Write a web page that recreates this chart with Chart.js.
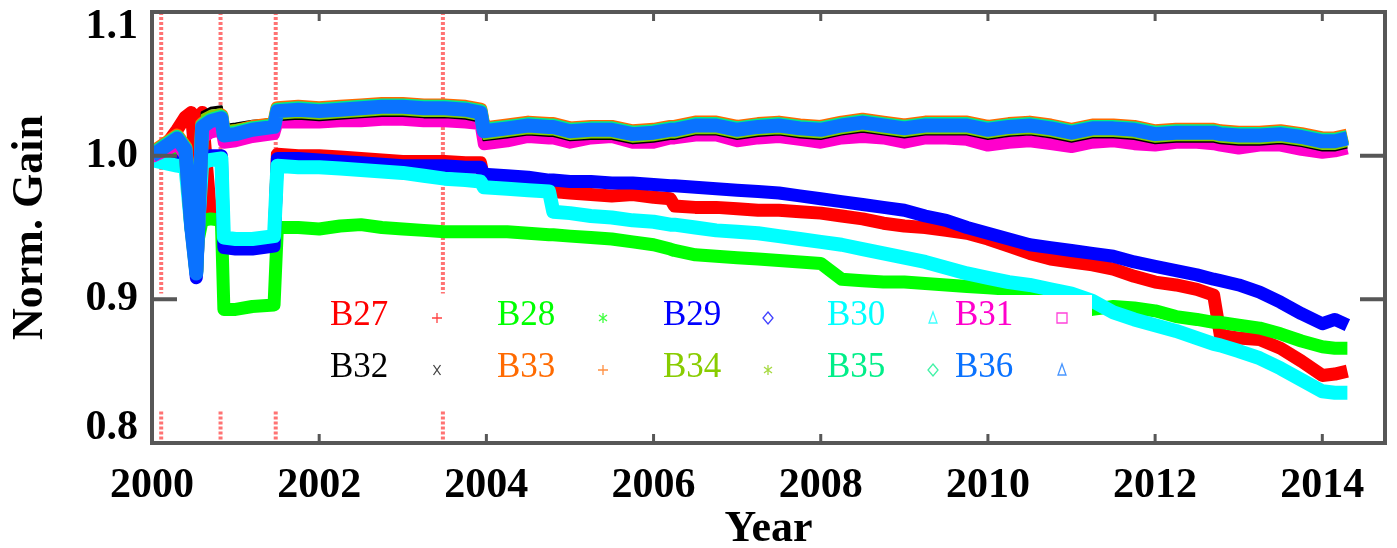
<!DOCTYPE html>
<html>
<head>
<meta charset="utf-8">
<title>Norm. Gain</title>
<script src="https://cdn.jsdelivr.net/npm/chart.js@4.4.1/dist/chart.umd.min.js"></script>
<style>
  html, body { margin: 0; padding: 0; background: #fff; }
  canvas { display: block; }
</style>
</head>
<body>
<canvas id="gain-chart" width="1397" height="548"></canvas>
<script>
// Normalised gain of bands B27..B36
var years = [
  2000.00, 2000.15, 2000.30, 2000.40, 2000.47, 2000.53, 2000.60, 2000.70, 2000.83, 2000.86,
  2001.00, 2001.20, 2001.46, 2001.50, 2001.75, 2002.00, 2002.25, 2002.50, 2002.75, 2003.00,
  2003.25, 2003.50, 2003.75, 2003.93, 2003.97, 2004.25, 2004.50, 2004.75, 2004.80, 2005.00,
  2005.25, 2005.50, 2005.75, 2006.00, 2006.20, 2006.25, 2006.50, 2006.75, 2007.00, 2007.25,
  2007.50, 2007.75, 2008.00, 2008.25, 2008.50, 2008.75, 2009.00, 2009.25, 2009.50, 2009.75,
  2010.00, 2010.25, 2010.50, 2010.75, 2011.00, 2011.25, 2011.50, 2011.75, 2012.00, 2012.25,
  2012.50, 2012.70, 2012.78, 2013.00, 2013.25, 2013.50, 2013.75, 2014.00, 2014.15, 2014.30
];

var b27 = [
  1.000, 1.006, 1.018, 1.027, 1.030, 0.990, 1.030, 0.960, 0.958, 0.940,
  0.938, 0.937, 0.938, 1.001, 1.000, 1.000, 0.999, 0.998, 0.997, 0.996,
  0.996, 0.996, 0.995, 0.995, 0.984, 0.983, 0.982, 0.981, 0.975, 0.974,
  0.973, 0.972, 0.973, 0.971, 0.970, 0.965, 0.964, 0.964, 0.963, 0.962,
  0.962, 0.961, 0.960, 0.958, 0.956, 0.953, 0.951, 0.950, 0.948, 0.946,
  0.942, 0.937, 0.932, 0.928, 0.926, 0.924, 0.921, 0.916, 0.912, 0.910,
  0.907, 0.903, 0.875, 0.873, 0.872, 0.866, 0.857, 0.847, 0.848, 0.850
];
var b28 = [
  1.000, 1.000, 1.004, 1.000, 0.960, 0.935, 0.955, 0.956, 0.955, 0.893,
  0.893, 0.895, 0.896, 0.950, 0.950, 0.949, 0.951, 0.952, 0.950, 0.949,
  0.948, 0.947, 0.947, 0.947, 0.947, 0.947, 0.946, 0.945, 0.945, 0.944,
  0.943, 0.942, 0.940, 0.938, 0.935, 0.934, 0.931, 0.930, 0.929, 0.928,
  0.927, 0.926, 0.925, 0.914, 0.913, 0.912, 0.912, 0.911, 0.910, 0.909,
  0.908, 0.907, 0.905, 0.902, 0.898, 0.893, 0.895, 0.894, 0.892, 0.888,
  0.886, 0.884, 0.884, 0.882, 0.880, 0.876, 0.871, 0.867, 0.866, 0.866
];
var b29 = [
  0.997, 0.997, 0.996, 0.995, 0.960, 0.915, 0.998, 1.000, 1.000, 0.936,
  0.935, 0.935, 0.937, 0.998, 0.998, 0.997, 0.996, 0.995, 0.994, 0.993,
  0.993, 0.993, 0.992, 0.992, 0.987, 0.986, 0.985, 0.983, 0.983, 0.982,
  0.982, 0.981, 0.981, 0.980, 0.979, 0.979, 0.978, 0.977, 0.976, 0.975,
  0.974, 0.972, 0.970, 0.968, 0.966, 0.964, 0.962, 0.958, 0.955, 0.950,
  0.946, 0.942, 0.938, 0.936, 0.934, 0.932, 0.930, 0.926, 0.923, 0.920,
  0.917, 0.914, 0.913, 0.910, 0.905, 0.898, 0.890, 0.883, 0.886, 0.882
];
var b30 = [
  0.997, 0.995, 0.993, 0.992, 0.950, 0.930, 0.995, 0.997, 0.998, 0.943,
  0.942, 0.942, 0.944, 0.993, 0.992, 0.992, 0.991, 0.990, 0.989, 0.988,
  0.986, 0.984, 0.983, 0.982, 0.978, 0.977, 0.976, 0.975, 0.961, 0.960,
  0.958, 0.957, 0.955, 0.954, 0.952, 0.952, 0.950, 0.948, 0.947, 0.946,
  0.944, 0.942, 0.940, 0.938, 0.935, 0.932, 0.929, 0.926, 0.922, 0.918,
  0.915, 0.912, 0.910, 0.907, 0.904, 0.899, 0.891, 0.886, 0.882, 0.878,
  0.873, 0.869, 0.868, 0.864, 0.859, 0.852, 0.844, 0.836, 0.835, 0.835
];
var b31 = [
  0.999, 1.003, 1.008, 1.000, 0.960, 0.940, 1.012, 1.016, 1.018, 1.009,
  1.010, 1.013, 1.015, 1.023, 1.023, 1.023, 1.024, 1.024, 1.025, 1.025,
  1.024, 1.024, 1.023, 1.022, 1.008, 1.010, 1.013, 1.012, 1.012, 1.009,
  1.012, 1.013, 1.009, 1.009, 1.012, 1.012, 1.014, 1.014, 1.010, 1.012,
  1.013, 1.011, 1.009, 1.012, 1.013, 1.012, 1.009, 1.012, 1.012, 1.011,
  1.007, 1.009, 1.010, 1.008, 1.006, 1.009, 1.010, 1.008, 1.007, 1.009,
  1.009, 1.008, 1.007, 1.005, 1.007, 1.007, 1.004, 1.002, 1.003, 1.005
];
var b32 = [
  1.000, 1.007, 1.013, 1.006, 0.955, 0.945, 1.030, 1.033, 1.034, 1.021,
  1.022, 1.024, 1.025, 1.025, 1.026, 1.025, 1.026, 1.027, 1.028, 1.028,
  1.027, 1.027, 1.026, 1.024, 1.011, 1.013, 1.015, 1.014, 1.014, 1.011,
  1.012, 1.012, 1.009, 1.010, 1.012, 1.012, 1.015, 1.015, 1.012, 1.014,
  1.015, 1.013, 1.012, 1.015, 1.017, 1.015, 1.013, 1.015, 1.015, 1.015,
  1.012, 1.014, 1.015, 1.013, 1.010, 1.013, 1.013, 1.012, 1.009, 1.010,
  1.010, 1.010, 1.009, 1.008, 1.008, 1.009, 1.007, 1.004, 1.004, 1.006
];
var b33 = [
  1.002, 1.008, 1.014, 1.006, 0.952, 0.920, 1.022, 1.026, 1.028, 1.016,
  1.017, 1.020, 1.022, 1.033, 1.034, 1.033, 1.034, 1.035, 1.036, 1.036,
  1.035, 1.035, 1.034, 1.032, 1.019, 1.021, 1.023, 1.022, 1.022, 1.019,
  1.020, 1.020, 1.017, 1.018, 1.020, 1.020, 1.023, 1.023, 1.020, 1.022,
  1.023, 1.021, 1.020, 1.023, 1.025, 1.023, 1.021, 1.023, 1.023, 1.023,
  1.020, 1.022, 1.023, 1.021, 1.018, 1.021, 1.021, 1.020, 1.017, 1.018,
  1.018, 1.018, 1.017, 1.016, 1.016, 1.017, 1.015, 1.012, 1.012, 1.014
];
var b34 = [
  1.000, 1.007, 1.013, 1.005, 0.952, 0.930, 1.028, 1.031, 1.032, 1.020,
  1.021, 1.023, 1.024, 1.026, 1.027, 1.026, 1.027, 1.028, 1.029, 1.029,
  1.028, 1.028, 1.027, 1.025, 1.012, 1.014, 1.016, 1.015, 1.015, 1.012,
  1.013, 1.013, 1.010, 1.011, 1.013, 1.013, 1.016, 1.016, 1.013, 1.015,
  1.016, 1.014, 1.013, 1.016, 1.018, 1.016, 1.014, 1.016, 1.016, 1.016,
  1.013, 1.015, 1.016, 1.014, 1.011, 1.014, 1.014, 1.013, 1.010, 1.011,
  1.011, 1.011, 1.010, 1.009, 1.009, 1.010, 1.008, 1.005, 1.005, 1.007
];
var b35 = [
  1.001, 1.007, 1.013, 1.005, 0.951, 0.919, 1.021, 1.025, 1.027, 1.015,
  1.016, 1.019, 1.021, 1.032, 1.033, 1.032, 1.033, 1.034, 1.035, 1.035,
  1.034, 1.034, 1.033, 1.031, 1.018, 1.020, 1.022, 1.021, 1.021, 1.018,
  1.019, 1.019, 1.016, 1.017, 1.019, 1.019, 1.022, 1.022, 1.019, 1.021,
  1.022, 1.020, 1.019, 1.022, 1.024, 1.022, 1.020, 1.022, 1.022, 1.022,
  1.019, 1.021, 1.022, 1.020, 1.017, 1.020, 1.020, 1.019, 1.016, 1.017,
  1.017, 1.017, 1.016, 1.015, 1.015, 1.016, 1.014, 1.011, 1.011, 1.013
];
var b36 = [
  1.000, 1.006, 1.012, 1.004, 0.950, 0.918, 1.020, 1.024, 1.026, 1.014,
  1.015, 1.018, 1.020, 1.031, 1.032, 1.031, 1.032, 1.033, 1.034, 1.034,
  1.033, 1.033, 1.032, 1.030, 1.017, 1.019, 1.021, 1.020, 1.020, 1.017,
  1.018, 1.018, 1.015, 1.016, 1.018, 1.018, 1.021, 1.021, 1.018, 1.020,
  1.021, 1.019, 1.018, 1.021, 1.023, 1.021, 1.019, 1.021, 1.021, 1.021,
  1.018, 1.020, 1.021, 1.019, 1.016, 1.019, 1.019, 1.018, 1.015, 1.016,
  1.016, 1.016, 1.015, 1.014, 1.014, 1.015, 1.013, 1.010, 1.010, 1.012
];

var bandNames = ["B27", "B28", "B29", "B30", "B31", "B32", "B33", "B34", "B35", "B36"];
var bandValues = [b27, b28, b29, b30, b31, b32, b33, b34, b35, b36];
var yearTicks = [2000, 2002, 2004, 2006, 2008, 2010, 2012, 2014];
var gainTicks = [0.8, 0.9, 1.0, 1.1];
var eventYears = [2000.11, 2000.82, 2001.48, 2003.48]; // dotted red markers
var eventSpans = [[1.1, 0.904], [0.822, 0.8]];

// styles
var bandColors = ["#ff0000", "#00ff00", "#0000ff", "#00ffff", "#ff00cc",
                  "#000000", "#ff6a00", "#88cc00", "#00ee88", "#0a72ff"];
var bandWidths = [13, 13, 13, 14, 12, 3, 14, 3, 14, 14];
var bandMarkers = ["plus", "asterisk", "diamond", "triangle", "square",
                   "cross", "plus", "asterisk", "diamond", "triangle"];

var AXIS_FONT = "Liberation Serif";
var FRAME_COLOR = "#575757";

// legend placement, offsets from chart area top-left
var legendBox = { left: 168, top: 283, right: 940, bottom: 388 };
var legendTextX = [178, 345, 511, 675, 803];
var legendMarkX = [285, 451, 616, 781, 910];
var legendRowY = [313, 365];

function drawMarker(ctx, kind, x, y, color) {
  var r = 5;
  ctx.save();
  ctx.strokeStyle = color;
  ctx.globalAlpha = 0.75;
  ctx.lineWidth = 1.3;
  ctx.setLineDash([]);
  ctx.beginPath();
  if (kind === "plus") {
    ctx.moveTo(x - r, y); ctx.lineTo(x + r, y);
    ctx.moveTo(x, y - r); ctx.lineTo(x, y + r);
  } else if (kind === "cross") {
    ctx.moveTo(x - r * 0.7, y - r); ctx.lineTo(x + r * 0.7, y + r);
    ctx.moveTo(x + r * 0.7, y - r); ctx.lineTo(x - r * 0.7, y + r);
  } else if (kind === "asterisk") {
    ctx.moveTo(x, y - r); ctx.lineTo(x, y + r);
    ctx.moveTo(x - r * 0.8, y - r * 0.6); ctx.lineTo(x + r * 0.8, y + r * 0.6);
    ctx.moveTo(x + r * 0.8, y - r * 0.6); ctx.lineTo(x - r * 0.8, y + r * 0.6);
  } else if (kind === "diamond") {
    ctx.moveTo(x, y - r * 1.2); ctx.lineTo(x + r, y);
    ctx.lineTo(x, y + r * 1.2); ctx.lineTo(x - r, y); ctx.closePath();
  } else if (kind === "triangle") {
    ctx.moveTo(x, y - r * 1.2); ctx.lineTo(x + r * 0.8, y + r);
    ctx.lineTo(x - r * 0.8, y + r); ctx.closePath();
  } else if (kind === "square") {
    ctx.rect(x - r, y - r, 2 * r, 2 * r);
  }
  ctx.stroke();
  ctx.restore();
}

var framePlugin = {
  id: "frameAndLegend",
  beforeDatasetsDraw: function (chart) {
    var ctx = chart.ctx, xs = chart.scales.x, ys = chart.scales.y;
    ctx.save();
    ctx.strokeStyle = "rgba(255, 90, 90, 0.85)";
    ctx.lineWidth = 4;
    ctx.setLineDash([3, 2]);
    eventYears.forEach(function (yr) {
      var px = xs.getPixelForValue(yr);
      eventSpans.forEach(function (span) {
        ctx.beginPath();
        ctx.moveTo(px, ys.getPixelForValue(span[0]));
        ctx.lineTo(px, ys.getPixelForValue(span[1]));
        ctx.stroke();
      });
    });
    ctx.restore();
  },
  afterDatasetsDraw: function (chart) {
    var ctx = chart.ctx, a = chart.chartArea;
    ctx.save();
    ctx.fillStyle = "#ffffff";
    ctx.fillRect(a.left + legendBox.left, a.top + legendBox.top,
                 legendBox.right - legendBox.left, legendBox.bottom - legendBox.top);
    ctx.font = "35px '" + AXIS_FONT + "'";
    ctx.textBaseline = "alphabetic";
    ctx.textAlign = "left";
    bandNames.forEach(function (name, i) {
      var row = i < 5 ? 0 : 1;
      var col = i % 5;
      var baseY = a.top + legendRowY[row];
      ctx.fillStyle = bandColors[i];
      ctx.fillText(name, a.left + legendTextX[col], baseY);
      drawMarker(ctx, bandMarkers[i], a.left + legendMarkX[col], baseY - 7, bandColors[i]);
    });
    ctx.restore();
  },
  afterDraw: function (chart) {
    var ctx = chart.ctx, a = chart.chartArea, xs = chart.scales.x, ys = chart.scales.y;
    ctx.save();
    ctx.strokeStyle = FRAME_COLOR;
    ctx.lineWidth = 4;
    ctx.strokeRect(a.left, a.top, a.right - a.left, a.bottom - a.top);

    // inward tick marks
    ctx.lineWidth = 3;
    ctx.beginPath();
    yearTicks.forEach(function (yr) {
      var px = xs.getPixelForValue(yr);
      if (px <= a.left + 2) return;
      ctx.moveTo(px, a.bottom); ctx.lineTo(px, a.bottom - 9);
      ctx.moveTo(px, a.top); ctx.lineTo(px, a.top + 9);
    });
    ctx.stroke();
    ctx.lineWidth = 4;
    ctx.beginPath();
    gainTicks.forEach(function (g) {
      var py = ys.getPixelForValue(g);
      if (py <= a.top + 2 || py >= a.bottom - 2) return;
      ctx.moveTo(a.left, py); ctx.lineTo(a.left + 25, py);
      ctx.moveTo(a.right, py); ctx.lineTo(a.right - 25, py);
    });
    ctx.stroke();
    ctx.restore();
  }
};

var datasets = bandNames.map(function (name, i) {
  return {
    label: name,
    data: years.map(function (yr, j) { return { x: yr, y: bandValues[i][j] }; }),
    showLine: true,
    borderColor: bandColors[i],
    backgroundColor: bandColors[i],
    borderWidth: bandWidths[i],
    borderJoinStyle: "round",
    pointRadius: 0,
    pointHoverRadius: 0,
    tension: 0,
    order: bandNames.length - i  // later bands drawn on top
  };
});

var xTickFont = { family: AXIS_FONT, size: 42, weight: "bold", lineHeight: 1 };
var yTickFont = { family: AXIS_FONT, size: 42, weight: "bold", lineHeight: 0.7 };
var titleFont = { family: AXIS_FONT, size: 44, weight: "bold", lineHeight: 1 };

new Chart(document.getElementById("gain-chart"), {
  type: "scatter",
  data: { datasets: datasets },
  options: {
    responsive: false,
    animation: false,
    devicePixelRatio: 1,
    layout: { padding: { top: 12, right: 12, left: 0, bottom: 0 } },
    plugins: {
      legend: { display: false },
      tooltip: { enabled: false }
    },
    scales: {
      x: {
        type: "linear",
        min: 2000,
        max: 2014.75,
        grid: { display: false, drawTicks: false },
        border: { display: false },
        afterBuildTicks: function (scale) {
          scale.ticks = yearTicks.map(function (v) { return { value: v }; });
        },
        afterFit: function (scale) {
          scale.height = 105;
          scale.paddingLeft = 0;
          scale.paddingRight = 0;
        },
        ticks: {
          color: "#000",
          font: xTickFont,
          padding: 22,
          maxRotation: 0,
          callback: function (v) { return String(v); }
        },
        title: {
          display: true,
          text: "Year",
          color: "#000",
          font: titleFont,
          padding: { top: 0, bottom: -4 }
        }
      },
      y: {
        type: "linear",
        min: 0.8,
        max: 1.1,
        grid: { display: false, drawTicks: false },
        border: { display: false },
        afterBuildTicks: function (scale) {
          scale.ticks = gainTicks.map(function (v) { return { value: v }; });
        },
        afterFit: function (scale) {
          scale.width = 152;
          scale.paddingTop = 0;
          scale.paddingBottom = 0;
        },
        ticks: {
          color: "#000",
          font: yTickFont,
          padding: 14,
          // edge labels sit inside the frame, as in the original plot
          callback: function (v) {
            var s = Number(v).toFixed(1);
            if (v >= 1.1 - 1e-9) return ["", s];
            if (v <= 0.8 + 1e-9) return [s, ""];
            return s;
          }
        },
        title: {
          display: true,
          text: "Norm. Gain",
          color: "#000",
          font: titleFont,
          padding: { top: 9, bottom: 0 }
        }
      }
    }
  },
  plugins: [framePlugin]
});
</script>
</body>
</html>
